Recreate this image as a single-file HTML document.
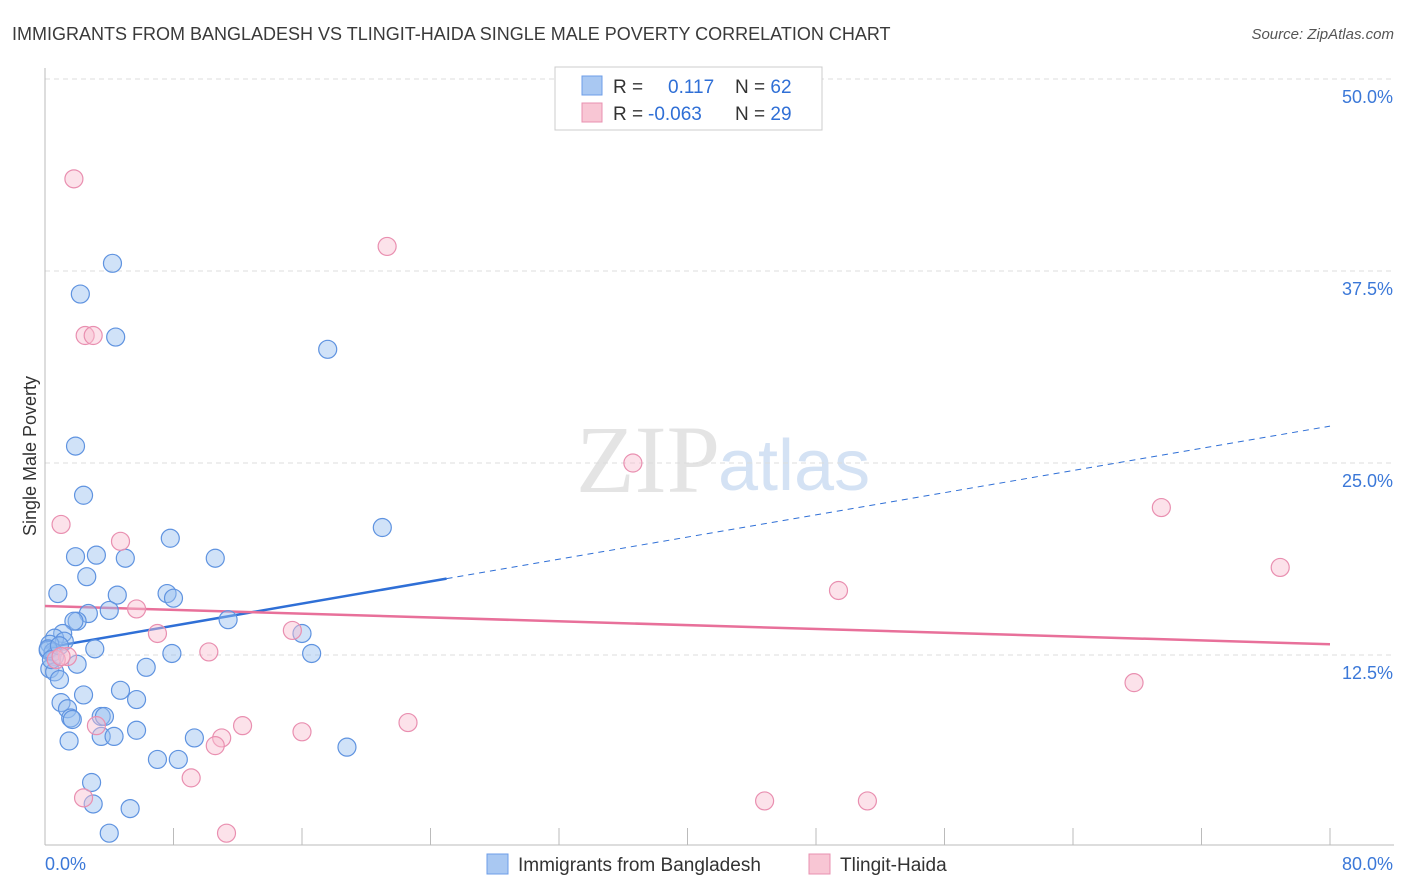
<!DOCTYPE html>
<html><head><meta charset="utf-8"><style>
body{margin:0;background:#fff;font-family:"Liberation Sans",sans-serif;}
svg{display:block}
</style></head><body>
<svg id="chart" width="1406" height="892">
<text x="12" y="40" font-size="18" fill="#3a3a3a">IMMIGRANTS FROM BANGLADESH VS TLINGIT-HAIDA SINGLE MALE POVERTY CORRELATION CHART</text>
<text x="1394" y="39" font-size="15" fill="#555" font-style="italic" text-anchor="end">Source: ZipAtlas.com</text>
<text x="36" y="456" font-size="18" fill="#333" text-anchor="middle" transform="rotate(-90 36 456)">Single Male Poverty</text>
<text x="720" y="492" font-size="96" fill="#e4e4e4" text-anchor="end" font-family="Liberation Serif, serif">ZIP</text>
<text x="718" y="490" font-size="72" fill="#d4e2f4">atlas</text>
<g id="grid"></g><g id="axes"></g><g id="trend"></g><g id="points"></g>
<g>
<rect x="555" y="67" width="267" height="63" fill="#fff" stroke="#ccc"/>
<rect x="582" y="76" width="20" height="19" fill="#a9c8f2" stroke="#6d9ee8"/>
<rect x="582" y="103" width="20" height="19" fill="#f8c6d4" stroke="#e890b0"/>
<text x="613" y="93" font-size="19" fill="#333">R = <tspan x="668" fill="#2f6fd6">0.117</tspan><tspan x="735" fill="#333">N = </tspan><tspan fill="#2f6fd6">62</tspan></text>
<text x="613" y="120" font-size="19" fill="#333">R = <tspan x="648" fill="#2f6fd6">-0.063</tspan><tspan x="735" fill="#333">N = </tspan><tspan fill="#2f6fd6">29</tspan></text>
</g>
<g>
<rect x="487" y="854" width="21" height="20" fill="#a9c8f2" stroke="#6d9ee8"/>
<text x="518" y="871" font-size="19" fill="#333">Immigrants from Bangladesh</text>
<rect x="809" y="854" width="21" height="20" fill="#f8c6d4" stroke="#e890b0"/>
<text x="840" y="871" font-size="19" fill="#333">Tlingit-Haida</text>
</g>
</svg>
<script>
const xTicks=[0,80];
const yTicks=[12.5,25,37.5,50];
const blueX=[4.2,2.2,4.4,17.6,1.9,2.4,21,1.9,3.2,5.0,7.8,10.6,2.6,0.8,4.5,7.6,8.0,4.0,2.7,2.0,1.8,11.4,1.1,0.6,1.2,0.3,3.1,16,0.2,0.5,0.6,6.3,2.0,7.9,16.6,0.3,0.6,0.9,2.4,4.7,5.7,1.0,1.4,1.6,1.7,3.5,3.7,5.7,1.5,3.5,4.3,9.3,7.0,8.3,18.8,2.9,3.0,5.3,4.0,0.2,0.4,0.9];
const blueY=[38.0,36.0,33.2,32.4,26.1,22.9,20.8,18.9,19.0,18.8,20.1,18.8,17.6,16.5,16.4,16.5,16.2,15.4,15.2,14.7,14.7,14.8,13.9,13.6,13.4,13.2,12.9,13.9,12.8,12.7,12.4,11.7,11.9,12.6,12.6,11.6,11.4,10.9,9.9,10.2,9.6,9.4,9.0,8.4,8.3,8.5,8.5,7.6,6.9,7.2,7.2,7.1,5.7,5.7,6.5,4.2,2.8,2.5,0.9,12.9,12.2,13.1];
const pinkX=[1.8,21.3,2.5,3.0,36.6,1.0,4.7,69.5,76.9,49.4,5.7,7.0,15.4,10.2,1.4,0.7,67.8,12.3,16,22.6,3.2,11.0,10.6,9.1,2.4,44.8,51.2,11.3,1.0];
const pinkY=[43.5,39.1,33.3,33.3,25.0,21.0,19.9,22.1,18.2,16.7,15.5,13.9,14.1,12.7,12.4,12.2,10.7,7.9,7.5,8.1,7.9,7.1,6.6,4.5,3.2,3.0,3.0,0.9,12.4];
const blueTrend=[12.96,27.4], blueSolidEnd=25, pinkTrend=[15.69,13.2];
const NS='http://www.w3.org/2000/svg';
const X=v=>45+v/80*1285, Y=v=>847-v/12.5*192;
function mk(tag,attrs,parent){const e=document.createElementNS(NS,tag);for(const k in attrs)e.setAttribute(k,attrs[k]);parent.appendChild(e);return e;}
const grid=document.getElementById('grid'),axes=document.getElementById('axes'),trend=document.getElementById('trend'),pts=document.getElementById('points');
yTicks.forEach(t=>{
 const l=mk('line',{x1:45,x2:1394,y1:Y(t),y2:Y(t),stroke:'#ddd','stroke-dasharray':'5,4'},grid);
 
 
 const tx=mk('text',{x:1393,y:Y(t)+24,'font-size':18,fill:'#3b78d8','text-anchor':'end'},grid);
 tx.textContent=t.toFixed(1)+'%';
 
 
});
mk('line',{x1:45,x2:45,y1:68,y2:845,stroke:'#bbb'},axes);
mk('line',{x1:45,x2:1394,y1:845,y2:845,stroke:'#bbb'},axes);
for(let i=1;i<=10;i++){const l=mk('line',{x1:X(i*8),x2:X(i*8),y1:828,y2:845,stroke:'#bbb'},axes);
 
 }
xTicks.forEach((t,i)=>{const tx=mk('text',{x:i?1393:45,y:870,'font-size':18,fill:'#3b78d8','text-anchor':i?'end':'start'},axes);
 tx.textContent=t.toFixed(1)+'%';
 
 });
const by=x=>blueTrend[0]+(blueTrend[1]-blueTrend[0])*x/80;
let l1=mk('line',{x1:X(0),y1:Y(by(0)),x2:X(blueSolidEnd),y2:Y(by(blueSolidEnd)),stroke:'#2f6fd6','stroke-width':2.5},trend);


let l2=mk('line',{x1:X(blueSolidEnd),y1:Y(by(blueSolidEnd)),x2:X(80),y2:Y(by(80)),stroke:'#2f6fd6','stroke-width':1,'stroke-dasharray':'6,5'},trend);


let l3=mk('line',{x1:X(0),y1:Y(pinkTrend[0]),x2:X(80),y2:Y(pinkTrend[1]),stroke:'#e8709a','stroke-width':2.5},trend);


blueX.forEach((x,i)=>{const c=mk('circle',{cx:X(x),cy:Y(blueY[i]),r:9,fill:'rgba(150,190,240,0.45)',stroke:'#5f93e0','stroke-width':1.2},pts);
 
 });
pinkX.forEach((x,i)=>{const c=mk('circle',{cx:X(x),cy:Y(pinkY[i]),r:9,fill:'rgba(248,190,208,0.45)',stroke:'#e98fb0','stroke-width':1.2},pts);
 
 });
</script>
</body></html>
